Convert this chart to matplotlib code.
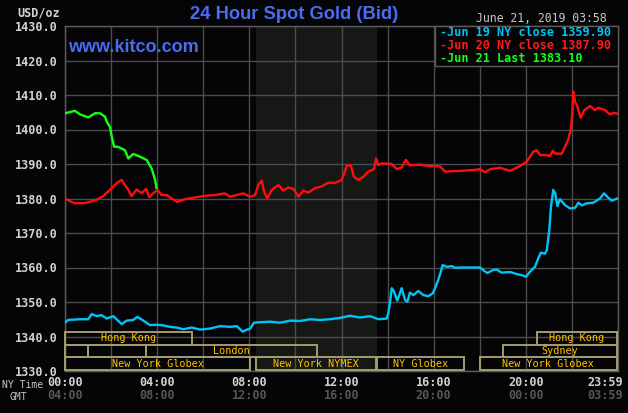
import matplotlib
matplotlib.use("Agg")
import matplotlib.pyplot as plt
from matplotlib.patches import Rectangle
import matplotlib.transforms as mtransforms

# ---------------- data ----------------
jun19_hours = [0.00, 0.14, 0.65, 1.01, 1.16, 1.38, 1.59, 1.81, 2.10, 2.27, 2.46, 2.68, 2.96, 3.14,
               3.40, 3.69, 3.91, 4.20, 4.56, 4.85, 5.13, 5.50, 5.86, 6.29, 6.73, 7.16, 7.45, 7.71,
               7.89, 8.03, 8.20, 8.39, 8.90, 9.33, 9.77, 10.20, 10.63, 11.07, 11.50, 11.94, 12.37,
               12.80, 13.24, 13.60, 13.96, 14.03, 14.11, 14.18, 14.28, 14.42, 14.61, 14.76, 14.86,
               14.97, 15.12, 15.33, 15.55, 15.77, 15.96, 16.06, 16.20, 16.31, 16.39, 16.57, 16.78,
               16.93, 17.14, 18.01, 18.16, 18.33, 18.59, 18.74, 18.95, 19.31, 19.60, 19.82, 20.01,
               20.18, 20.40, 20.54, 20.65, 20.83, 20.91, 21.02, 21.09, 21.19, 21.27, 21.37, 21.48,
               21.70, 21.92, 22.14, 22.28, 22.43, 22.64, 22.93, 23.22, 23.39, 23.58, 23.73, 23.97]
jun19_price = [1344.0, 1344.8, 1345.0, 1345.0, 1346.5, 1345.9, 1346.2, 1345.2, 1345.9, 1344.8,
               1343.6, 1344.6, 1344.8, 1345.7, 1344.6, 1343.3, 1343.4, 1343.3, 1342.8, 1342.6,
               1342.1, 1342.6, 1342.0, 1342.3, 1343.0, 1342.8, 1343.0, 1341.4, 1342.0, 1342.2,
               1344.0, 1344.1, 1344.3, 1344.0, 1344.6, 1344.5, 1345.0, 1344.8, 1345.0, 1345.4,
               1346.0, 1345.5, 1345.9, 1345.0, 1345.2, 1346.7, 1350.1, 1354.0, 1353.0, 1350.4,
               1354.0, 1350.6, 1350.1, 1352.7, 1352.0, 1353.2, 1352.0, 1351.7, 1352.5, 1354.0,
               1356.4, 1358.8, 1360.7, 1360.2, 1360.4, 1359.9, 1360.0, 1360.0, 1359.2, 1358.4,
               1359.3, 1359.4, 1358.5, 1358.7, 1358.1, 1357.8, 1357.3, 1358.8, 1360.2, 1362.7,
               1364.3, 1364.0, 1365.0, 1371.0, 1377.6, 1382.5, 1381.6, 1377.8, 1379.8, 1378.1,
               1377.1, 1377.3, 1378.8, 1378.0, 1378.6, 1378.8, 1380.0, 1381.5, 1380.2, 1379.4,
               1380.0]

jun20_hours = [0.00, 0.22, 0.43, 0.87, 1.17, 1.39, 1.66, 1.95, 2.24, 2.46, 2.60, 2.75, 2.89, 3.11,
               3.33, 3.52, 3.66, 3.83, 4.01, 4.20, 4.41, 4.63, 4.86, 5.21, 5.64, 6.08, 6.51, 6.94,
               7.16, 7.45, 7.74, 8.03, 8.25, 8.39, 8.54, 8.64, 8.78, 8.97, 9.26, 9.47, 9.69, 9.91,
               10.13, 10.34, 10.56, 10.85, 11.14, 11.43, 11.72, 12.01, 12.23, 12.40, 12.54, 12.73,
               12.95, 13.16, 13.41, 13.50, 13.60, 13.75, 14.18, 14.40, 14.61, 14.79, 14.97, 15.41,
               15.84, 16.28, 16.49, 17.14, 17.80, 18.01, 18.23, 18.45, 18.88, 19.31, 19.75, 20.04,
               20.33, 20.47, 20.62, 20.91, 21.05, 21.17, 21.27, 21.56, 21.70, 21.84, 21.95, 22.02,
               22.06, 22.14, 22.24, 22.38, 22.53, 22.79, 23.00, 23.15, 23.44, 23.65, 23.80, 23.98]
jun20_price = [1380.0, 1379.2, 1378.6, 1378.7, 1379.2, 1379.7, 1380.7, 1382.5, 1384.4, 1385.4,
               1383.9, 1382.5, 1380.7, 1382.6, 1381.5, 1382.8, 1380.4, 1381.5, 1382.5, 1381.0,
               1381.0, 1380.0, 1379.0, 1379.8, 1380.3, 1380.8, 1381.0, 1381.5, 1380.5, 1381.0,
               1381.5, 1380.5, 1381.0, 1383.9, 1385.2, 1382.0, 1380.0, 1382.5, 1383.9, 1382.3,
               1383.2, 1382.8, 1380.5, 1382.3, 1381.7, 1383.0, 1383.5, 1384.6, 1384.5, 1385.4,
               1389.4, 1389.7, 1386.3, 1385.4, 1386.3, 1387.8, 1388.5, 1391.6, 1389.7, 1390.2,
               1390.0, 1388.5, 1389.0, 1391.2, 1389.6, 1389.8, 1389.4, 1389.3, 1387.8, 1388.0,
               1388.3, 1388.5, 1387.6, 1388.5, 1388.9, 1388.0, 1389.4, 1390.7, 1393.6, 1394.0,
               1392.6, 1392.6, 1392.3, 1393.8, 1393.0, 1393.0, 1395.0, 1397.0, 1400.0, 1404.7,
               1411.0, 1408.0, 1406.6, 1403.4, 1405.5, 1406.8, 1405.6, 1406.3, 1405.6, 1404.4,
               1404.8, 1404.6]

jun21_hours = [0.00, 0.43, 0.65, 1.01, 1.30, 1.52, 1.74, 1.81, 1.95, 2.03, 2.13, 2.30, 2.60, 2.75,
               2.96, 3.26, 3.54, 3.76, 3.91, 3.97]
jun21_price = [1404.7, 1405.4, 1404.4, 1403.5, 1404.7, 1404.7, 1403.7, 1402.3, 1400.8, 1397.9,
               1395.0, 1395.0, 1394.0, 1391.6, 1392.9, 1392.1, 1391.2, 1388.7, 1385.4, 1383.1]

legend_labels = ["-Jun 19 NY close 1359.90", "-Jun 20 NY close 1387.90", "-Jun 21 Last 1383.10"]
y_ticks = [1330, 1340, 1350, 1360, 1370, 1380, 1390, 1400, 1410, 1420, 1430]
ny_time_hours = [0, 4, 8, 12, 16, 20]
ny_time_labels = ["00:00", "04:00", "08:00", "12:00", "16:00", "20:00"]
gmt_labels = ["04:00", "08:00", "12:00", "16:00", "20:00", "00:00"]
end_label_ny = "23:59"
end_label_gmt = "03:59"

# sessions: (label, row, start hour, end hour)
session_names = ["Hong Kong", "Hong Kong", "", "", "London", "Sydney",
                 "New York Globex", "New York NYMEX", "NY Globex", "New York Globex"]
session_rows = [0, 0, 1, 1, 1, 1, 2, 2, 2, 2]
session_start = [0.0, 20.5, 0.0, 0.99, 3.5, 19.0, 0.0, 8.29, 13.55, 18.0]
session_end = [5.5, 23.94, 0.99, 3.5, 10.95, 23.94, 8.03, 13.5, 17.33, 23.94]
nymex_start, nymex_end = 8.29, 13.52

# ---------------- styling ----------------
W, H = 628, 413
BG = '#050507'
GRID = '#4c4c4c'
MONO = 'DejaVu Sans Mono'
LIGHT = '#d2d2d2'

fig = plt.figure(figsize=(W / 100, H / 100), dpi=100)
fig.patch.set_facecolor(BG)
ax = fig.add_axes([65 / W, (H - 371) / H, 553 / W, 345 / H])
ax.set_facecolor(BG)
ax.set_xlim(0, 24)
ax.set_ylim(1330, 1430)

ax.axvspan(nymex_start, nymex_end, color='#161816', zorder=0.1, lw=0)
ax.set_axisbelow(True)
ax.set_xticks(range(0, 25, 2))
ax.set_yticks(y_ticks)
ax.grid(True, color=GRID, lw=1.0)
ax.set_xticklabels([])
ax.set_yticklabels([f"{v:.1f}" for v in y_ticks])
ax.tick_params(length=0, pad=5)
for lab in ax.get_yticklabels():
    lab.set_fontfamily(MONO)
    lab.set_fontweight('bold')
    lab.set_fontsize(8.5)
    lab.set_color(LIGHT)
for s in ax.spines.values():
    s.set_color('#5c5c5c')
    s.set_linewidth(1.0)

ax.plot(jun19_hours, jun19_price, color='#00c4f5', lw=1.7, zorder=3)
ax.plot(jun20_hours, jun20_price, color='#ff0d0d', lw=1.7, zorder=3)
ax.plot(jun21_hours, jun21_price, color='#14ff14', lw=1.7, zorder=3)

# session boxes
row_top = [1341.4, 1337.5, 1334.0]
row_bot = [1337.5, 1334.0, 1330.3]
for name, r, s0, s1 in zip(session_names, session_rows, session_start, session_end):
    ax.add_patch(Rectangle((s0, row_bot[r]), s1 - s0, row_top[r] - row_bot[r], fill=False,
                           ec='#a39c6c', lw=1.4, zorder=4, clip_on=False))
    if name:
        ax.text((s0 + s1) / 2, (row_top[r] + row_bot[r]) / 2, name, ha='center', va='center',
                color='#ffc400', fontsize=7.3, fontfamily=MONO, zorder=5)

# time labels
trans = mtransforms.blended_transform_factory(ax.transData, fig.transFigure)
y_ny = 1 - 382.5 / H
y_gmt = 1 - 395.5 / H
for h, l1, l2 in zip(ny_time_hours, ny_time_labels, gmt_labels):
    fig.text(h, y_ny, l1, transform=trans, ha='center', va='center', color=LIGHT,
             fontsize=8.5, fontfamily=MONO, fontweight='bold')
    fig.text(h, y_gmt, l2, transform=trans, ha='center', va='center', color='#565656',
             fontsize=8.5, fontfamily=MONO, fontweight='bold')
trans_end = mtransforms.offset_copy(trans, fig=fig, x=5, y=0, units='dots')
fig.text(24, y_ny, end_label_ny, transform=trans_end, ha='right', va='center', color=LIGHT,
         fontsize=8.5, fontfamily=MONO, fontweight='bold')
fig.text(24, y_gmt, end_label_gmt, transform=trans_end, ha='right', va='center', color='#565656',
         fontsize=8.5, fontfamily=MONO, fontweight='bold')
fig.text(2 / W, 1 - 384.5 / H, "NY Time", ha='left', va='center', color='#c8c8c8', fontsize=7.0,
         fontfamily=MONO)
fig.text(10 / W, 1 - 396.5 / H, "GMT", ha='left', va='center', color='#c8c8c8', fontsize=7.0,
         fontfamily=MONO)

# header texts
fig.text(60 / W, 1 - 13 / H, "USD/oz", ha='right', va='center', color=LIGHT, fontsize=8.5,
         fontfamily=MONO, fontweight='bold')
fig.text(294 / W, 1 - 14.5 / H, "24 Hour Spot Gold (Bid)", ha='center', va='center',
         color='#4a6cf0', fontsize=13.2, fontfamily='Liberation Sans', fontweight='bold')
fig.text(68 / W, 1 - 48 / H, "www.kitco.com", ha='left', va='center', color='#4a6cf0',
         fontsize=13, fontfamily='Liberation Sans', fontweight='bold', zorder=6)
fig.text(607 / W, 1 - 18 / H, "June 21, 2019 03:58", ha='right', va='center', color='#c8c8c8',
         fontsize=8.3, fontfamily=MONO)

# legend
fig.add_artist(Rectangle((435 / W, 1 - 66 / H), (618 - 435) / W, 40 / H, transform=fig.transFigure,
                         fc=BG, ec='#5c5c5c', lw=1.0, zorder=5))
leg_colors = ['#00c4f5', '#ff1a1a', '#14ff14']
leg_y = [33, 45.5, 58]
for lab, c, yy in zip(legend_labels, leg_colors, leg_y):
    fig.text(440 / W, 1 - yy / H, lab, ha='left', va='center', color=c, fontsize=8.5,
             fontfamily=MONO, fontweight='bold', zorder=6)

fig.savefig("out.png", dpi=100, facecolor=fig.get_facecolor())
